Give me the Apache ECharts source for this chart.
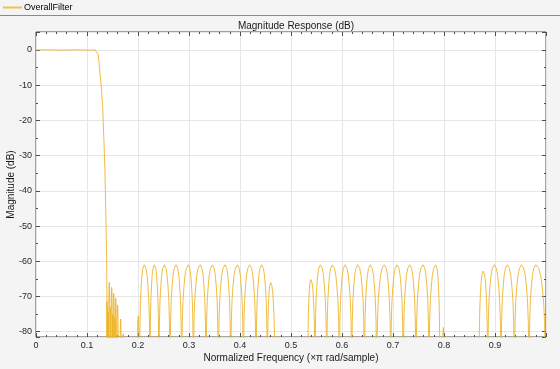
<!DOCTYPE html>
<html><head><meta charset="utf-8">
<script src="https://cdn.jsdelivr.net/npm/echarts@6/dist/echarts.min.js"></script>
<style>html,body{margin:0;padding:0;background:#f4f4f4}#c{width:560px;height:369px}</style>
</head><body><div id="c"></div>
<script>
// ---- data ----
const seriesName = 'OverallFilter';
const xTickValues = [0, 0.1, 0.2, 0.3, 0.4, 0.5, 0.6, 0.7, 0.8, 0.9];
const yTickValues = [-80, -70, -60, -50, -40, -30, -20, -10, 0];

// passband and transition band (frequency in xπ rad/sample, magnitude in dB)
const transFreq = [0, 0.02, 0.05, 0.08, 0.1, 0.112, 0.116, 0.119, 0.1222, 0.1255, 0.1285, 0.1307, 0.1335, 0.1353, 0.137, 0.1386, 0.1396, 0.1402];
const transDb   = [0, 0.02, -0.02, 0.02, -0.02, 0, 0, -0.3, -1.4, -6.6, -11.5, -16.1, -27, -35, -47, -59.7, -80, -120];

// stopband lobes: left null, peak frequency, right null, peak level (dB)
const lobeStart = [
  0.1385,0.1402,0.1422,0.1450,0.1470,0.1497,0.1513,0.1537,0.1553,0.1585,0.1645,0.1700,
  0.1980,0.2030,0.2235,0.2410,0.2627,0.2856,0.3085,0.3333,0.3575,0.3817,0.4065,0.4314,0.4536,
  0.5327,0.5470,0.5700,0.5948,0.6190,0.6440,0.6680,0.6955,0.7200,0.7450,0.7706,0.7965,
  0.8686,0.8856,0.9118,0.9380,0.9667];
const lobePeakFreq = [
  0.1392,0.1412,0.1437,0.1460,0.1484,0.1505,0.1524,0.1545,0.1563,0.1600,0.1660,0.1710,
  0.2005,0.2124,0.2320,0.2516,0.2745,0.2987,0.3220,0.3458,0.3706,0.3948,0.4190,0.4425,0.4600,
  0.5390,0.5575,0.5810,0.6060,0.6307,0.6555,0.6830,0.7080,0.7327,0.7588,0.7837,0.7987,
  0.8770,0.8987,0.9240,0.9520,0.9800];
const lobeEnd = [
  0.1402,0.1422,0.1450,0.1470,0.1497,0.1513,0.1537,0.1553,0.1578,0.1615,0.1675,0.1720,
  0.2025,0.2235,0.2410,0.2627,0.2856,0.3085,0.3333,0.3575,0.3817,0.4065,0.4314,0.4536,0.4686,
  0.5470,0.5700,0.5948,0.6190,0.6440,0.6680,0.6955,0.7200,0.7450,0.7706,0.7920,0.8005,
  0.8856,0.9118,0.9380,0.9667,0.9990];
const lobePeakDb = [
  -71.5,-74.5,-66,-73,-67.4,-75,-69.1,-76,-70.5,-72.4,-76.4,-80.6,
  -75.6,-61,-61,-61,-61,-61,-61,-61,-61,-61,-61,-61,-66,
  -65.2,-61,-61,-61,-61,-61,-61,-61,-61,-61,-61,-78.8,
  -62.8,-61,-61,-61,-61];
// shape of a typical lobe side: fraction of the way from null to peak, dB below peak
const lobeSideFrac = [0.04, 0.1, 0.2, 0.34, 0.5, 0.7, 1.0];
const lobeSideDrop = [-24, -16, -10.2, -6.3, -3.0, -1.0, 0];
const nullDb = -120;

// ---- build the series ----
const data = transFreq.map((f, i) => [f, transDb[i]]);
for (let i = 0; i < lobeStart.length; i++) {
  const s = lobeStart[i], p = lobePeakFreq[i], e = lobeEnd[i], v = lobePeakDb[i];
  data.push([s, nullDb]);
  for (let k = 0; k < lobeSideFrac.length; k++) data.push([s + lobeSideFrac[k] * (p - s), v + lobeSideDrop[k]]);
  for (let k = lobeSideFrac.length - 2; k >= 0; k--) data.push([e - lobeSideFrac[k] * (e - p), v + lobeSideDrop[k]]);
  data.push([e, nullDb]);
}

const FONT = '"Liberation Sans", Arial, Helvetica, sans-serif';
const AX = '#4d4d4d';
const LINE = '#EDB120';
const chart = echarts.init(document.getElementById('c'), null, {renderer: 'canvas'});
const tickCommon = {show: true, inside: true, length: 4, lineStyle: {color: AX, width: 1}};
chart.setOption({
  animation: false,
  backgroundColor: '#f4f4f4',
  textStyle: {fontFamily: FONT},
  title: {
    text: 'Magnitude Response (dB)', left: 291, top: 16, textAlign: 'center',
    textStyle: {fontSize: 10, fontWeight: 'normal', color: '#1a1a1a', fontFamily: FONT}
  },
  legend: {
    data: [seriesName], left: 3, top: 3, padding: 0, itemWidth: 19, itemHeight: 2, icon: 'rect',
    itemStyle: {color: '#F0C24E'},
    textStyle: {fontSize: 9, color: '#000', fontFamily: FONT, padding: [0, 0, 0, -3]}
  },
  graphic: [{
    type: 'line', shape: {x1: 0, y1: 15.5, x2: 560, y2: 15.5},
    style: {stroke: '#8a8a8a', lineWidth: 1}, silent: true
  }],
  grid: {left: 36, right: 14, top: 32, bottom: 32, outerBoundsMode: 'none', containLabel: false,
    show: true, backgroundColor: '#fff', borderColor: AX, borderWidth: 1},
  xAxis: [{
    type: 'value', min: 0, max: 1, interval: 0.1, position: 'bottom',
    axisLine: {show: false, onZero: false},
    axisTick: tickCommon,
    minorTick: {show: true, splitNumber: 5, length: 2, lineStyle: {color: AX}},
    axisLabel: {customValues: xTickValues, margin: 4, fontSize: 9, color: '#262626', fontFamily: FONT,
      formatter: v => String(v)},
    splitLine: {show: true, lineStyle: {color: '#e6e6e6', width: 1}},
    name: 'Normalized Frequency (×π rad/sample)', nameLocation: 'middle', nameGap: 16, nameMoveOverlap: false,
    nameTextStyle: {fontSize: 10, color: '#1a1a1a', fontFamily: FONT}
  }, {
    type: 'value', min: 0, max: 1, interval: 0.1, position: 'top',
    axisLine: {show: false, onZero: false}, axisTick: tickCommon,
    minorTick: {show: true, splitNumber: 5, length: 2, lineStyle: {color: AX}},
    axisLabel: {show: false}, splitLine: {show: false}
  }],
  yAxis: [{
    type: 'value', min: -81.5, max: 5.1, minInterval: 10, maxInterval: 10, position: 'left',
    axisLine: {show: false, onZero: false}, axisTick: tickCommon,
    minorTick: {show: true, splitNumber: 2, length: 2, lineStyle: {color: AX}},
    axisLabel: {customValues: yTickValues, margin: 4, fontSize: 9, color: '#262626', fontFamily: FONT},
    splitLine: {show: true, lineStyle: {color: '#e6e6e6', width: 1}},
    name: 'Magnitude (dB)', nameLocation: 'middle', nameGap: 20, nameMoveOverlap: false,
    nameTextStyle: {fontSize: 10, color: '#1a1a1a', fontFamily: FONT}
  }, {
    type: 'value', min: -81.5, max: 5.1, minInterval: 10, maxInterval: 10, position: 'right',
    axisLine: {show: false, onZero: false}, axisTick: tickCommon,
    minorTick: {show: true, splitNumber: 2, length: 2, lineStyle: {color: AX}},
    axisLabel: {show: false}, splitLine: {show: false}
  }],
  series: [{
    name: seriesName, type: 'line', xAxisIndex: 0, yAxisIndex: 0,
    data: data, symbol: 'none', showSymbol: false, clip: true,
    lineStyle: {color: LINE, width: 1, opacity: 0.85}, itemStyle: {color: LINE}
  }]
});
</script></body></html>
